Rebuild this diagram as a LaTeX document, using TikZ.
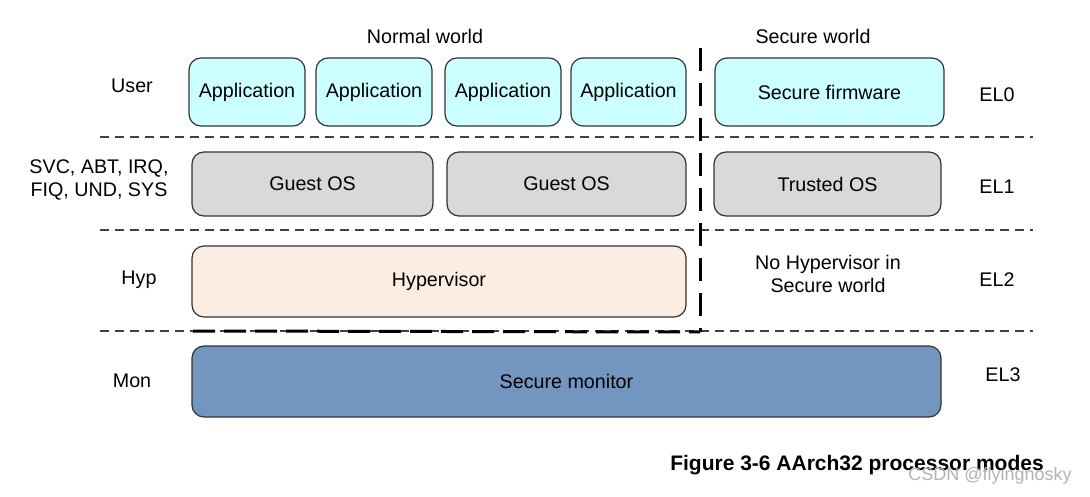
\documentclass[tikz,border=0pt]{standalone}
\usepackage{fontspec}
\setmainfont{Liberation Sans}
\begin{document}
\begin{tikzpicture}[x=1pt,y=-1pt,
  every node/.style={font=\fontsize{19.7}{23}\selectfont, text=black},
  blk/.style={draw=black!80, line width=1.2pt, rounded corners=12pt, inner sep=0pt},
  appbox/.style={blk, fill={rgb,255:red,204;green,255;blue,255}, minimum height=68pt},
  osbox/.style={blk, fill=black!15, minimum height=64pt},
  hypbox/.style={blk, fill={rgb,255:red,252;green,237;blue,227}, minimum height=71pt},
  monbox/.style={blk, fill={rgb,255:red,115;green,150;blue,193}, minimum height=71pt},
  sep/.style={draw=black!75, line width=1.2pt, dash pattern=on 9pt off 6pt},
  wall/.style={draw=black, line width=3pt, dash pattern=on 23pt off 12pt},
  lab/.style={align=center, inner sep=0pt}
]
\useasboundingbox (0,0) rectangle (1090,497);

% separators
\coordinate (s1a) at (100,137); \coordinate (s1b) at (1033,137);
\coordinate (s2a) at (100,230); \coordinate (s2b) at (1033,230);
\coordinate (s3a) at (100,331); \coordinate (s3b) at (1033,331);
\draw[sep] (s1a) -- (s1b);
\draw[sep] (s2a) -- (s2b);
\draw[sep] (s3a) -- (s3b);

% world headers
\node[lab] (nw) at (425,36) {Normal world};
\node[lab] (sw) at (813,36) {Secure world};

% EL0
\node[appbox, minimum width=116pt] (a1) at (247,92) {Application};
\node[appbox, minimum width=116pt] (a2) at (374,92) {Application};
\node[appbox, minimum width=116pt] (a3) at (503,92) {Application};
\node[appbox, minimum width=115pt] (a4) at (628.5,92) {Application};
\node[appbox, minimum width=229pt] (sf) at (829.5,92) {Secure firmware};

% EL1
\node[osbox, minimum width=241pt] (g1) at (312.5,184) {Guest OS};
\node[osbox, minimum width=239pt] (g2) at (566.5,184) {Guest OS};
\node[osbox, minimum width=227pt] (to) at (827.5,184) {Trusted OS};

% EL2
\node[hypbox, minimum width=494pt] (hv) at (439,281.5) {Hypervisor};
\node[lab] (nh) at (828,273.5) {No Hypervisor in\\Secure world};

% EL3
\node[monbox, minimum width=749pt] (sm) at (566.5,381.5) {Secure monitor};

% world boundary
\coordinate (w1) at (700,48); \coordinate (w2) at (700,332);
\coordinate (w3) at (193,331);
\draw[wall] (w1) -- (w2);
\draw[wall, dash pattern=on 22pt off 9pt] (w3) -- (w2);

% mode labels
\node[lab] (mu) at (132,86) {User};
\node[lab] (ms) at (99,180) {SVC, ABT, IRQ,\\FIQ, UND, SYS};
\node[lab] (mh) at (139,280) {Hyp};
\node[lab] (mm) at (132,381) {Mon};

% EL labels
\node[lab] (e0) at (997,95) {EL0};
\node[lab] (e1) at (997,187) {EL1};
\node[lab] (e2) at (997,280) {EL2};
\node[lab] (e3) at (1003,375) {EL3};

% caption
\node[lab, font=\fontsize{21}{25}\selectfont\bfseries] (cap) at (857,465) {Figure 3-6 AArch32 processor modes};
\node[lab, font=\fontsize{18}{22}\selectfont, text=black!30] (wm) at (990,476) {CSDN @flyingnosky};
\end{tikzpicture}
\end{document}
